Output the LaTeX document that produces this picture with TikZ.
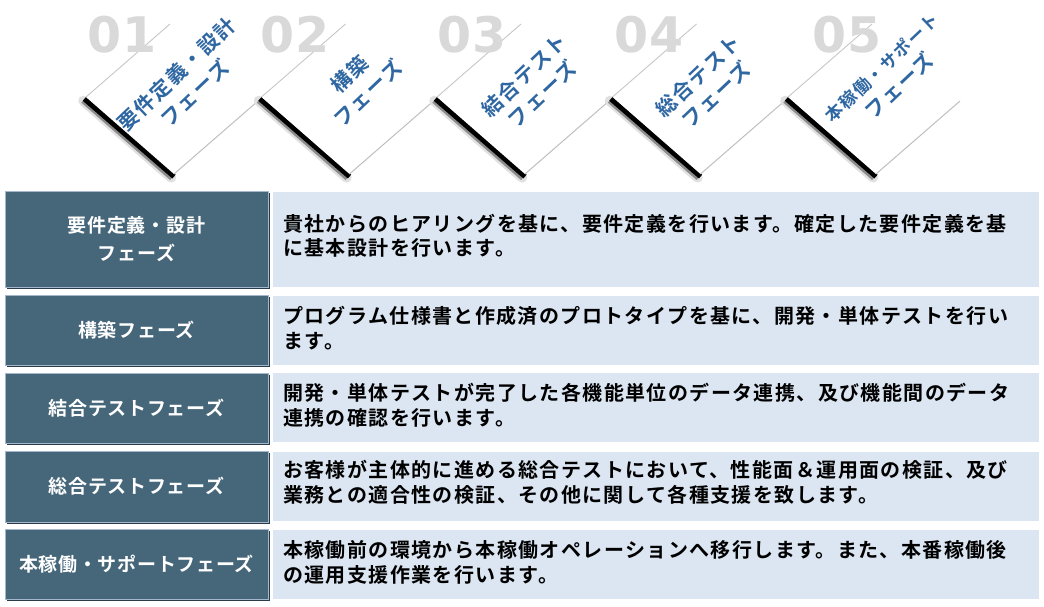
\documentclass[tikz,border=0pt]{standalone}
\usepackage{fontspec}
\usetikzlibrary{calc}
\newfontfamily\jpdesc{Noto Sans CJK JP Bold}[LetterSpace=7]
\newfontfamily\jphead{Noto Sans CJK JP Bold}[LetterSpace=3.7]
\newfontfamily\jpcard{Noto Sans CJK JP Bold}[LetterSpace=7]
\newfontfamily\numfont{DejaVu Sans Bold}
\definecolor{darkbox}{HTML}{46667A}
\definecolor{darkedge}{HTML}{A5B7CC}
\definecolor{darkshadow}{HTML}{2A3C48}
\definecolor{lightbox}{HTML}{DCE6F2}
\definecolor{cardtext}{HTML}{2F67A2}
\definecolor{numgray}{HTML}{D9D9D9}
\tikzset{
  headbox/.style={fill=darkbox, draw=darkedge, line width=0.8pt, minimum width=263pt,
    inner sep=0pt, text=white, align=center, font=\jphead\fontsize{19}{28}\selectfont},
  descbox/.style={fill=lightbox, draw=none, minimum width=766pt, inner sep=0pt},
  descline/.style={anchor=base west, inner sep=0pt, text=black,
    font=\jpdesc\fontsize{20}{25}\selectfont},
  numlabel/.style={inner sep=0pt, text=numgray, font=\numfont\fontsize{49}{49}\selectfont},
  cardlabel/.style={rotate=43.5, align=center, inner sep=0pt, text=cardtext,
    font=\jpcard\fontsize{20.5}{26}\selectfont},
}
\begin{document}
\begin{tikzpicture}[x=1pt,y=-1pt]
\useasboundingbox (0,0) rectangle (1044,606);
\fill[white] (0,0) rectangle (1044,606);

% ---- cards ----
\foreach \i/\cx/\cy/\la/\lb in {0/185.5/83.5/要件定義・設計/フェーズ, 1/183/83.5/構築/フェーズ, 2/182/84.5/結合テスト/フェーズ, 3/180.5/85/総合テスト/フェーズ, 4/189/77/{\fontsize{17.5}{26}\selectfont 本稼働・サポート}/フェーズ}{
  \begin{scope}[shift={(175.5*\i,0)}]
    \coordinate (cL\i) at (86,97);
    \coordinate (cT\i) at (170,24);
    \coordinate (cR\i) at (258,101);
    \coordinate (cB\i) at (174,174);
    \draw[line width=10pt, black!12, line cap=round] ($(cL\i)+(-2.8,3.8)$) -- ($(cB\i)+(-2.8,3.6)$);
    \draw[line width=7pt, black!45] ($(cL\i)+(-2.4,3.0)$) -- ($(cB\i)+(-1.6,3.4)$);
    \draw[line width=5pt, black] ($(cL\i)+(-1.6,1.9)$) -- ($(cB\i)+(0,2.6)$);
    \fill[white] (cL\i) -- (cT\i) -- (cR\i) -- (cB\i) -- cycle;
    \draw[black!22, line width=0.9pt] (cL\i) -- (cT\i);
    \draw[black!25, line width=1pt] (cB\i) -- (cR\i);
    \node[cardlabel] (card\i) at (\cx,\cy) {{\la}\\{\lb}};
  \end{scope}
}

% ---- numbers ----
\node[numlabel] (n1) at (122,35) {01};
\node[numlabel] (n2) at (295,35) {02};
\node[numlabel] (n3) at (472,35) {03};
\node[numlabel] (n4) at (649,35) {04};
\node[numlabel] (n5) at (847,35) {05};

% ---- rows: shadows ----
\fill[darkshadow] (6.5,192.5) rectangle (269.5,288.5);
\fill[darkshadow] (6.5,296.5) rectangle (269.5,366.5);
\fill[darkshadow] (6.5,374.5) rectangle (269.5,444.5);
\fill[darkshadow] (6.5,452.5) rectangle (269.5,523.5);
\fill[darkshadow] (6.5,530.5) rectangle (269.5,600.5);

% ---- rows: heads ----
\node[headbox, minimum height=96pt] (h1) at (136.5,239) {要件定義・設計\\フェーズ};
\node[headbox, minimum height=70pt] (h2) at (136.5,330) {構築フェーズ};
\node[headbox, minimum height=70pt] (h3) at (136.5,408) {結合テストフェーズ};
\node[headbox, minimum height=71pt] (h4) at (136.5,486.5) {総合テストフェーズ};
\node[headbox, minimum height=70pt] (h5) at (136.5,564) {本稼働・サポートフェーズ};

% ---- rows: descriptions ----
\node[descbox, minimum height=95pt] (b1) at (656,239.5) {};
\node[descbox, minimum height=69pt] (b2) at (656,330) {};
\node[descbox, minimum height=69pt] (b3) at (656,407.5) {};
\node[descbox, minimum height=69pt] (b4) at (656,486.5) {};
\node[descbox, minimum height=69pt] (b5) at (656,564.5) {};

\node[descline] (d1a) at (283,231) {貴社からのヒアリングを基に、要件定義を行います。確定した要件定義を基};
\node[descline] (d1b) at (283,255) {に基本設計を行います。};
\node[descline] (d2a) at (283,323) {プログラム仕様書と作成済のプロトタイプを基に、開発・単体テストを行い};
\node[descline] (d2b) at (283,348) {ます。};
\node[descline] (d3a) at (283,400) {開発・単体テストが完了した各機能単位のデータ連携、及び機能間のデータ};
\node[descline] (d3b) at (283,425) {連携の確認を行います。};
\node[descline] (d4a) at (283,477) {お客様が主体的に進める総合テストにおいて、性能面＆運用面の検証、及び};
\node[descline] (d4b) at (283,502) {業務との適合性の検証、その他に関して各種支援を致します。};
\node[descline] (d5a) at (283,557) {本稼働前の環境から本稼働オペレーションへ移行します。また、本番稼働後};
\node[descline] (d5b) at (283,582) {の運用支援作業を行います。};
\end{tikzpicture}
\end{document}
